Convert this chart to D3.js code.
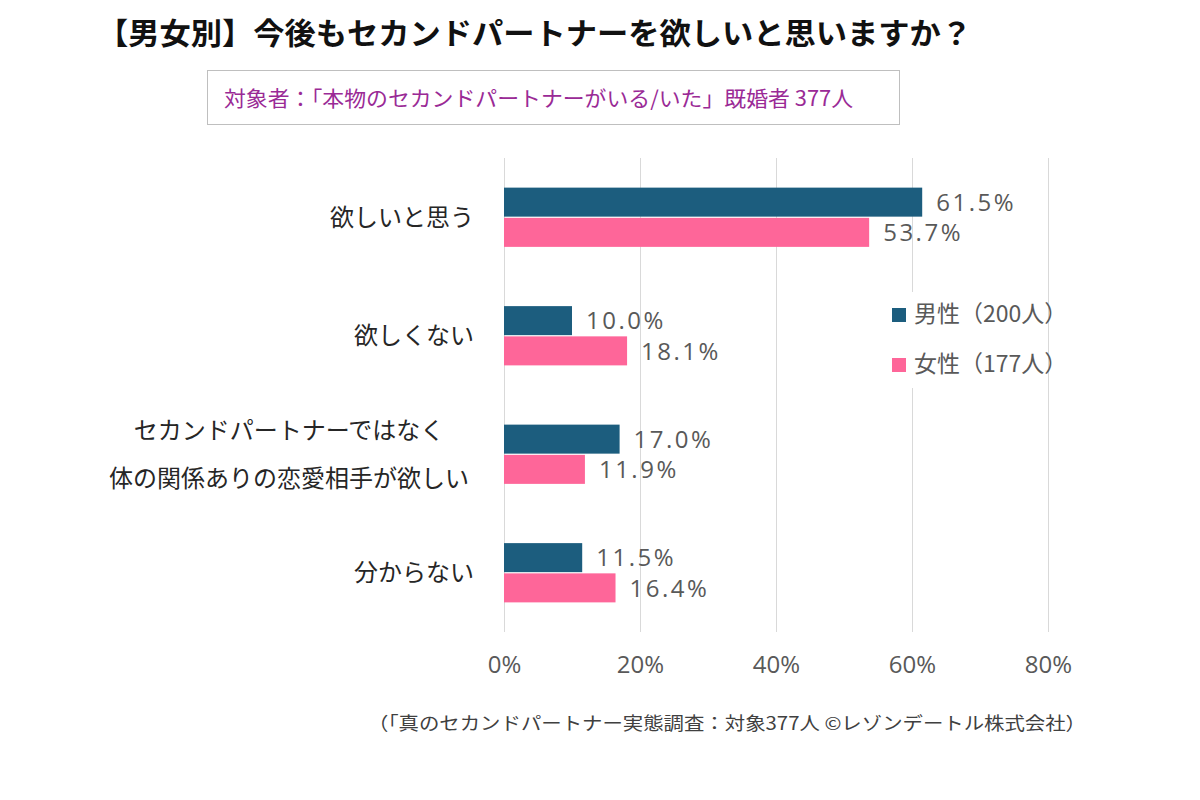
<!DOCTYPE html>
<html><head><meta charset="utf-8">
<script src="https://cdn.jsdelivr.net/npm/d3@7/dist/d3.min.js"></script>
<style>body{margin:0;background:#fff;}svg{display:block;font-family:"Noto Sans CJK JP","Noto Sans",sans-serif;}</style>
</head><body><svg id="c" width="1200" height="800"></svg>
<script>
const categories = ["欲しいと思う", "欲しくない", "セカンドパートナーではなく\n体の関係ありの恋愛相手が欲しい", "分からない"];
const seriesNames = ["男性（200人）", "女性（177人）"];
const maleValues = [61.5, 10.0, 17.0, 11.5];
const femaleValues = [53.7, 18.1, 11.9, 16.4];
const xTicks = [0, 20, 40, 60, 80];
const colors = ["#1c5d7e", "#fe6699"];
const titleText = "【男女別】今後もセカンドパートナーを欲しいと思いますか？";
const subtitleText = "対象者：「本物のセカンドパートナーがいる/いた」既婚者 377人";
const footerText = "（「真のセカンドパートナー実態調査：対象377人 ©レゾンデートル株式会社）";

const numFont = "'Open Sans','Noto Sans',sans-serif";
const svg = d3.select("#c");
const x = d3.scaleLinear().domain([0, 80]).range([504, 1048]);
const y = d3.scaleBand().domain(categories).range([158, 632]).paddingInner(0.5).paddingOuter(0.25);
const ySub = d3.scaleBand().domain([0, 1]).range([0, y.bandwidth()]).paddingInner(0.04);

// title
svg.append("text").attr("x", 97).attr("y", 44).attr("font-size", 30).attr("font-weight", "bold")
  .attr("fill", "#111").attr("textLength", 875).attr("lengthAdjust", "spacingAndGlyphs").text(titleText);
// subtitle box
svg.append("rect").attr("x", 207.5).attr("y", 70.5).attr("width", 692).attr("height", 54)
  .attr("fill", "#fff").attr("stroke", "#bfbfbf").attr("stroke-width", 1);
svg.append("text").attr("x", 224).attr("y", 106).attr("font-size", 21).attr("fill", "#9a2a96")
  .attr("textLength", 629).attr("lengthAdjust", "spacingAndGlyphs").text(subtitleText);

// gridlines
svg.append("g").selectAll("line").data(xTicks).join("line")
  .attr("x1", d => x(d) + 0.5).attr("x2", d => x(d) + 0.5).attr("y1", 158).attr("y2", 632)
  .attr("stroke", "#d9d9d9").attr("stroke-width", 1);

// x axis labels
const xAxis = d3.axisBottom(x).tickValues(xTicks).tickFormat(d => d + "%").tickSize(0).tickPadding(0);
const gx = svg.append("g").attr("transform", "translate(0,656)").call(xAxis);
gx.select(".domain").remove();
gx.selectAll("text").attr("font-size", 24).attr("fill", "#595959").attr("font-family", numFont);

// bars
const series = [maleValues, femaleValues];
series.forEach((vals, si) => {
  svg.append("g").selectAll("rect").data(vals).join("rect")
    .attr("x", x(0)).attr("y", (d, i) => y(categories[i]) + ySub(si))
    .attr("width", d => x(d) - x(0)).attr("height", ySub.bandwidth())
    .attr("fill", colors[si]);
  svg.append("g").selectAll("text").data(vals).join("text")
    .attr("x", d => x(d) + 14).attr("y", (d, i) => y(categories[i]) + ySub(si) + ySub.bandwidth() / 2)
    .attr("dy", "0.36em").attr("font-size", 24).attr("fill", "#595959").attr("letter-spacing", 2.5)
    .attr("font-family", numFont)
    .text(d => d.toFixed(1) + "%");
});

// category labels
categories.forEach(c => {
  const lines = c.split("\n");
  const cy = y(c) + y.bandwidth() / 2;
  const t = svg.append("text").attr("font-size", 24).attr("fill", "#262626").attr("text-anchor", lines.length > 1 ? "middle" : "end");
  if (lines.length === 1) {
    t.attr("x", 474).attr("y", cy).attr("dy", "0.36em").text(c);
  } else {
    lines.forEach((l, i) => {
      t.append("tspan").attr("x", 289).attr("y", cy + (i - 0.5) * 48).attr("dy", "0.36em").text(l);
    });
  }
});

// legend
const lg = svg.append("g");
lg.append("rect").attr("x", 880).attr("y", 292).attr("width", 166).attr("height", 96).attr("fill", "#fff");
seriesNames.forEach((n, i) => {
  const ly = 314 + i * 50;
  lg.append("rect").attr("x", 892).attr("y", ly - 6).attr("width", 14).attr("height", 14).attr("fill", colors[i]);
  lg.append("text").attr("x", 914).attr("y", ly).attr("dy", "0.36em").attr("font-size", 23).attr("fill", "#595959").text(n);
});

// footer
svg.append("text").attr("x", 368).attr("y", 730).attr("font-size", 18)
  .attr("fill", "#404040").attr("textLength", 718).attr("lengthAdjust", "spacingAndGlyphs").text(footerText);
</script></body></html>
